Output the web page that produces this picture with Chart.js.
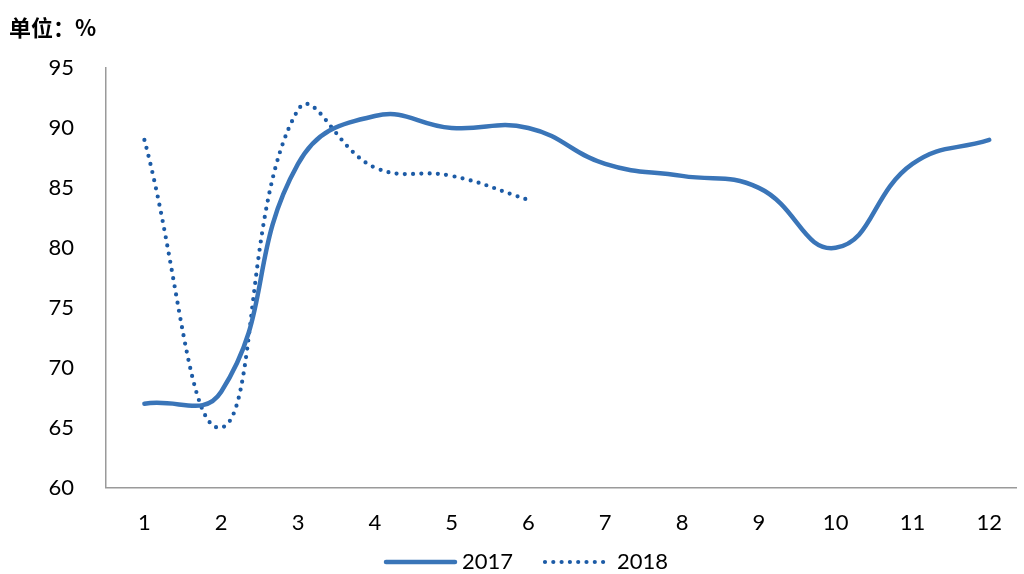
<!DOCTYPE html>
<html>
<head>
<meta charset="utf-8">
<script src="https://cdn.jsdelivr.net/npm/chart.js@4"></script>
<style>
  html, body { margin: 0; padding: 0; background: #fff; }
  #wrap { width: 1024px; height: 574px; }
</style>
</head>
<body>
<div id="wrap"><canvas id="chart"></canvas></div>
<script>
// months on the x axis
const months = [1, 2, 3, 4, 5, 6, 7, 8, 9, 10, 11, 12];
const monthLabels = ['1', '2', '3', '4', '5', '6', '7', '8', '9', '10', '11', '12'];
// values (%)
const values2017 = [67, 68, 87, 91, 90, 90, 87, 86, 85, 80, 87, 89];
const values2018 = [89, 65, 91.5, 86.7, 86, 84];
const yTicks = [60, 65, 70, 75, 80, 85, 90, 95];

const FONT = "Lato";

// title + hand drawn legend (line samples like the original)
const extras = {
  id: 'extras',
  afterDraw(chart) {
    const ctx = chart.ctx;
    ctx.save();
    ctx.font = "bold 22px 'Noto Sans CJK SC'";
    ctx.fillStyle = '#000';
    ctx.textBaseline = 'middle';
    ctx.fillText('单位：%', 9, 28);

    const ly = 562;
    const items = [
      { ds: chart.data.datasets[0], x0: 386, x1: 455, tx: 462 },
      { ds: chart.data.datasets[1], x0: 545, x1: 604, tx: 617 }
    ];
    items.forEach(it => {
      ctx.beginPath();
      ctx.strokeStyle = it.ds.borderColor;
      ctx.lineWidth = it.ds.borderWidth;
      ctx.lineCap = it.ds.borderCapStyle || 'butt';
      ctx.setLineDash(it.ds.borderDash || []);
      ctx.moveTo(it.x0, ly);
      ctx.lineTo(it.x1, ly);
      ctx.stroke();
      ctx.setLineDash([]);
      ctx.font = "22px " + FONT;
      ctx.fillStyle = '#000';
      ctx.fillText(it.ds.label, it.tx, ly);
    });
    ctx.restore();
  }
};

const pts = (vals) => vals.map((v, i) => ({ x: months[i], y: v }));

new Chart(document.getElementById('chart'), {
  type: 'line',
  data: {
    datasets: [
      {
        label: '2017',
        data: pts(values2017),
        borderColor: '#3a75b8',
        backgroundColor: '#3a75b8',
        borderWidth: 4.5,
        tension: 0.45,
        pointRadius: 0,
        borderCapStyle: 'round'
      },
      {
        label: '2018',
        data: pts(values2018),
        borderColor: '#1c5ba6',
        backgroundColor: '#1c5ba6',
        borderWidth: 4.2,
        borderDash: [0, 8.3],
        borderCapStyle: 'round',
        tension: 0.45,
        pointRadius: 0
      }
    ]
  },
  options: {
    responsive: true,
    maintainAspectRatio: false,
    animation: false,
    layout: { padding: { top: 68, left: 10, right: 0, bottom: 16 } },
    scales: {
      x: {
        type: 'linear',
        min: 0.5,
        max: 12.35,
        grid: { display: false, drawTicks: false },
        border: { display: true, color: '#9a9a9a', width: 1.5 },
        afterBuildTicks: (axis) => { axis.ticks = months.map(v => ({ value: v })); },
        ticks: {
          padding: 22,
          color: '#000',
          font: { family: FONT, size: 22 },
          callback: (v) => monthLabels[months.indexOf(v)]
        }
      },
      y: {
        min: 60,
        max: 95,
        grid: { display: false, drawTicks: false },
        border: { display: true, color: '#9a9a9a', width: 1.5 },
        afterBuildTicks: (axis) => { axis.ticks = yTicks.map(v => ({ value: v })); },
        afterFit: (axis) => { axis.width = 96; },
        ticks: {
          padding: 32,
          color: '#000',
          font: { family: FONT, size: 22 }
        }
      }
    },
    plugins: {
      tooltip: { enabled: false },
      legend: { display: false }
    }
  },
  plugins: [extras]
});
</script>
</body>
</html>
